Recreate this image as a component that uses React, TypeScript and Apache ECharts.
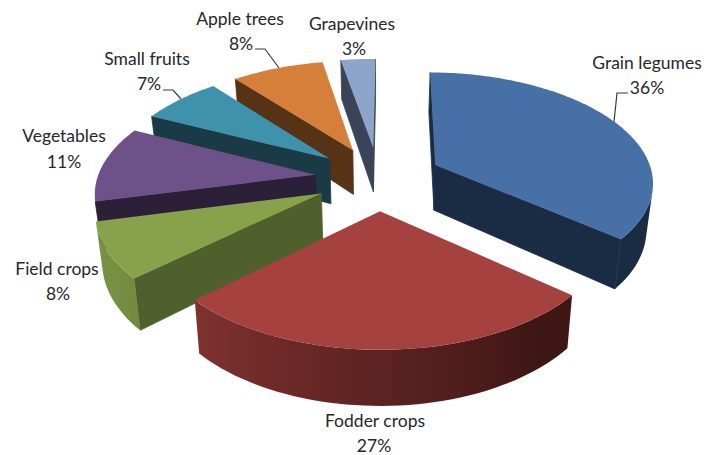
import React, { useEffect, useRef } from "react";
import * as echarts from "echarts";

const categories = ["Grain legumes", "Fodder crops", "Field crops", "Vegetables", "Small fruits", "Apple trees", "Grapevines"];
const values = [36, 27, 8, 11, 7, 8, 3];
const topColors = ["#4771a6", "#a54240", "#87a24b", "#6f5189", "#3f92ac", "#d57f3a", "#8ea5cb"];
const sideColors = ["#1a2c44", "#3e1614", "#4f602c", "#2b2038", "#1a3a46", "#573316", "#3a4358"];
const drawOrder = [6, 5, 4, 3, 2, 0, 1];

// Perspective camera fitted to the picture
const CX = 378.5, HORIZON = -600, FOCAL_Y = 778, FOCAL_X = 218, PERSP = 0.14, THICK = 46, LOW_SHRINK = 0.976, EXPLODE = 0.292, ROTATE = 0.5;

const labelSpots: [number, number, number, number][] = [
  [647, 62, 647, 87], [375, 420, 374, 445], [57, 268, 58, 293], [64, 135, 64, 161], [147, 58, 149, 83], [240, 18, 241, 43], [352, 23, 354, 48],
];
const leaders: number[][][] = [
  [[628, 93], [617, 93], [614, 122]],
  [[255, 49], [265, 49], [279, 68]],
  [[163, 90], [173, 90], [181, 99]],
];

const project = (X: number, Y: number, low: boolean): number[] => {
  const w = 1 - PERSP * Y;
  let x = CX + (FOCAL_X * X) / w;
  let y = HORIZON + FOCAL_Y / w;
  if (low) {
    y += THICK / w;
    x = CX + (x - CX) * LOW_SHRINK;
  }
  return [x, y];
};
const area = (p: number[][]) => {
  let s = 0;
  p.forEach((a, i) => {
    const b = p[(i + 1) % p.length];
    s += a[0] * b[1] - b[0] * a[1];
  });
  return s;
};
const hexRgb = (h: string) => [1, 3, 5].map((i) => parseInt(h.slice(i, i + 2), 16));
const mix = (a: string, b: string, f: number) => {
  const A = hexRgb(a), B = hexRgb(b);
  return `rgb(${A.map((v, i) => Math.round(v + (B[i] - v) * f)).join(",")})`;
};
const total = values.reduce((s, v) => s + v, 0);

const renderSlice = (params: any, api: any) => {
  const idx = drawOrder[params.dataIndex];
  const before = values.slice(0, idx).reduce((s, v) => s + v, 0);
  const a0 = ROTATE + (before / total) * 360;
  const a1 = a0 + (api.value(0) / total) * 360;
  const rad = (d: number) => (d * Math.PI) / 180;
  const mid = rad((a0 + a1) / 2);
  const ox = EXPLODE * Math.sin(mid), oy = -EXPLODE * Math.cos(mid);
  const pt = (deg: number, low: boolean) => project(ox + Math.sin(rad(deg)), oy - Math.cos(rad(deg)), low);
  const apex = project(ox, oy, false), apexLow = project(ox, oy, true);
  const top = topColors[idx], side = sideColors[idx];
  const children: any[] = [];
  const shade = (t: number) => mix(side, top, Math.min(1, Math.max(0, (t - 140) / 100)) * 0.72);
  const face = (pts: number[][]) => {
    if (area(pts) > 0) children.push({ type: "polygon", shape: { points: pts }, style: { fill: side, stroke: side, lineWidth: 0.8 }, silent: true });
  };
  face([apex, pt(a1, false), pt(a1, true), apexLow]);
  face([pt(a0, false), apex, apexLow, pt(a0, true)]);

  // outer wall: one polygon over the camera-facing part of the arc, shaded along x
  const n = Math.max(1, Math.ceil((a1 - a0) / 2));
  const visible: number[] = [];
  for (let i = 0; i < n; i++) {
    const t0 = a0 + ((a1 - a0) * i) / n, t1 = a0 + ((a1 - a0) * (i + 1)) / n;
    if (area([pt(t1, false), pt(t0, false), pt(t0, true), pt(t1, true)]) > 0) {
      if (!visible.length) visible.push(t0);
      visible.push(t1);
    }
  }
  if (visible.length > 1) {
    const first = visible[0], last = visible[visible.length - 1];
    const wall = [
      ...visible.map((t) => pt(t, false)),
      ...visible.slice().reverse().map((t) => pt(t, true)),
    ];
    const xa = pt(first, true)[0], xb = pt(last, true)[0];
    const span = xb - xa || 1;
    const stops = visible
      .map((t) => ({ offset: Math.min(1, Math.max(0, (pt(t, true)[0] - xa) / span)), color: shade(t) }))
      .sort((p, q) => p.offset - q.offset);
    const fill = new echarts.graphic.LinearGradient(xa, 0, xb, 0, stops, true);
    children.push({ type: "polygon", shape: { points: wall }, style: { fill }, silent: true });
  }

  const topPts = [apex];
  for (let i = 0; i <= 2 * n; i++) topPts.push(pt(a0 + ((a1 - a0) * i) / (2 * n), false));
  children.push({ type: "polygon", shape: { points: topPts }, style: { fill: top }, silent: true });
  return { type: "group", children };
};

export default function App() {
  const ref = useRef<HTMLDivElement>(null);
  useEffect(() => {
    const chart = echarts.init(ref.current!, null, { renderer: "svg" });
    const textStyle = { fontFamily: "Lato", fontSize: 17.5, fill: "#26262e", textAlign: "center", textVerticalAlign: "middle" };
    const texts: any[] = [];
    categories.forEach((c, i) => {
      const [x1, y1, x2, y2] = labelSpots[i];
      texts.push({ type: "text", x: x1, y: y1, style: { ...textStyle, text: c } });
      texts.push({ type: "text", x: x2, y: y2, style: { ...textStyle, text: `${values[i]}%` } });
    });
    const lines = leaders.map((points) => ({
      type: "polyline",
      shape: { points },
      style: { stroke: "#3a3a3a", lineWidth: 1.2, fill: "none" },
    }));
    chart.setOption({
      animation: false,
      backgroundColor: "#ffffff",
      graphic: [...lines, ...texts],
      series: [
        {
          type: "custom",
          coordinateSystem: "none",
          renderItem: renderSlice,
          data: drawOrder.map((i) => ({ name: categories[i], value: [values[i]] })),
          silent: true,
        },
      ],
    });
    return () => chart.dispose();
  }, []);
  return <div ref={ref} style={{ position: "fixed", left: 0, top: 0, width: 709, height: 455 }} />;
}
